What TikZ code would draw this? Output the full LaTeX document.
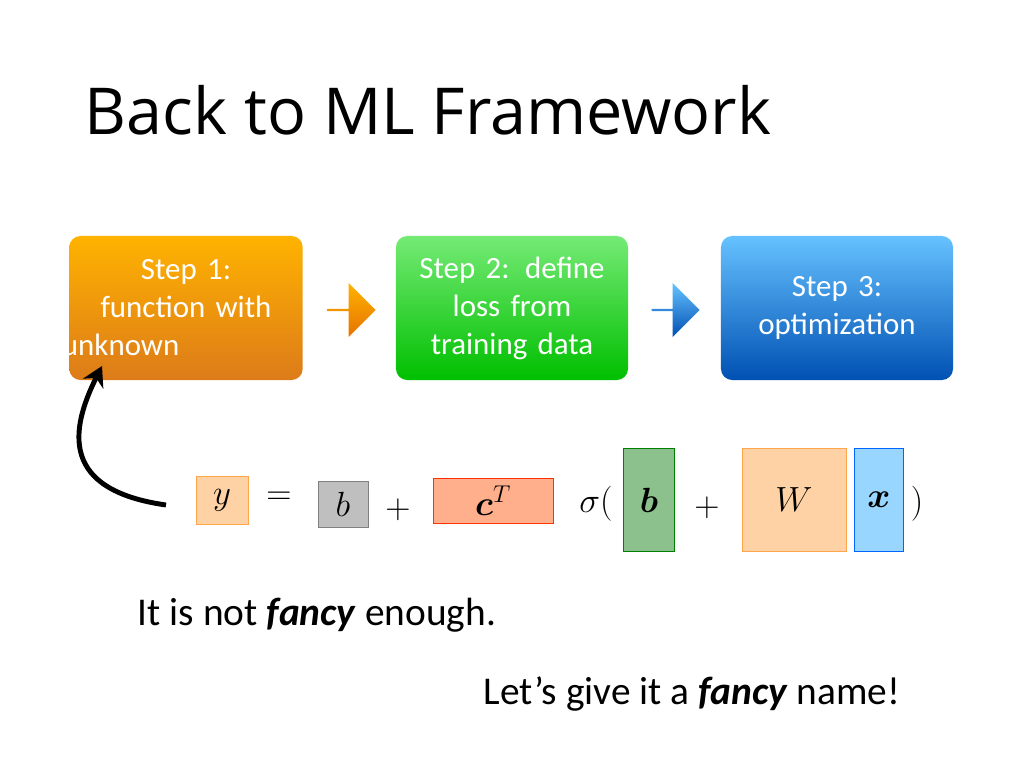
\documentclass[tikz,border=0pt]{standalone}
\usepackage{amsmath,bm}
\usepackage{fontspec}
\setmainfont{Carlito}
\newfontfamily\titlefont{Open Sans}
\usetikzlibrary{positioning,arrows.meta,shapes.arrows,shadings}
\tikzset{
  stepbox/.style={rounded corners=8pt, minimum width=5.8cm, minimum height=3.6cm,
    text width=5.2cm, align=center, text=white, font=\fontsize{22}{27}\selectfont},
  chev/.style={single arrow, single arrow head extend=0.15cm, minimum width=1.35cm,
    minimum height=1.2cm, inner sep=0pt},
  term/.style={draw, inner sep=0pt, font=\fontsize{26}{30}\selectfont},
  op/.style={font=\fontsize{26}{30}\selectfont}
}
\begin{document}
\begin{tikzpicture}[x=0.025cm,y=-0.025cm]
\useasboundingbox (0,0) rectangle (1024,768);
\node[anchor=base west, font=\titlefont\fontsize{46}{50}\selectfont] (title) at (80,135) {Back to ML Framework};
% the three steps
\node[stepbox, top color=orange!60!yellow, bottom color=orange!85!black!90, text width=5.6cm] (s1) at (186,308)
  {Step 1:\\ function with\\ \hspace*{-0.3cm}unknown\hfill\hbox{}};
\node[stepbox, top color=green!85!black!60!white!90, bottom color=green!75!black] (s2) at (512,308)
  {Step 2: define\\ loss from\\ training data};
\node[stepbox, top color=blue!40!cyan!60, bottom color=blue!55!cyan!70!black] (s3) at (837,308)
  {Step 3:\\ optimization};
\node[chev, top color=orange!60!yellow, bottom color=orange!90!black] (a1) at (351,310) {};
\node[chev, top color=blue!40!cyan!60, bottom color=blue!55!cyan!70!black] (a2) at (675,310) {};
% formula
\node[term, draw=orange!70, fill=orange!35, minimum width=1.3cm, minimum height=1.2cm] (y) at (222,500) {$y$};
\node[op] (eq) at (279,498) {$=$};
\node[term, draw=gray, fill=gray!50, minimum width=1.25cm, minimum height=1.15cm] (b1) at (343,504) {$b$};
\node[op] (p1) at (398,510) {$+$};
\node[term, draw=red!60!orange, fill=red!40!orange!45, minimum width=3.0cm, minimum height=1.12cm] (c) at (493,501) {$\bm{c}^T$};
\node[op] (sig) at (596,504) {$\sigma($};
\node[term, draw=green!50!black, fill=green!45!black!45, minimum width=1.27cm, minimum height=2.58cm] (b2) at (649,500) {$\bm{b}$};
\node[op] (p2) at (707,508) {$+$};
\node[term, draw=orange!70, fill=orange!35, minimum width=2.6cm, minimum height=2.58cm] (W) at (794,500) {$W$};
\node[term, draw=blue!60!cyan, fill=blue!40!cyan!40, minimum width=1.22cm, minimum height=2.58cm] (x) at (879,500) {$\bm{x}$};
\node[op] (cl) at (917,504) {$)$};
\coordinate (start) at (166,505);
\draw[line width=3.5pt, -{Stealth[length=14pt,width=16pt]}] (start) .. controls (60,490) and (70,430) .. (102,366);
% remarks
\node[anchor=base west, font=\fontsize{28}{32}\selectfont] (t1) at (133,625) {It is not \textbf{\textit{fancy}} enough.};
\node[anchor=base west, font=\fontsize{28}{32}\selectfont] (t2) at (479,704) {Let’s give it a \textbf{\textit{fancy}} name!};
\end{tikzpicture}
\end{document}
